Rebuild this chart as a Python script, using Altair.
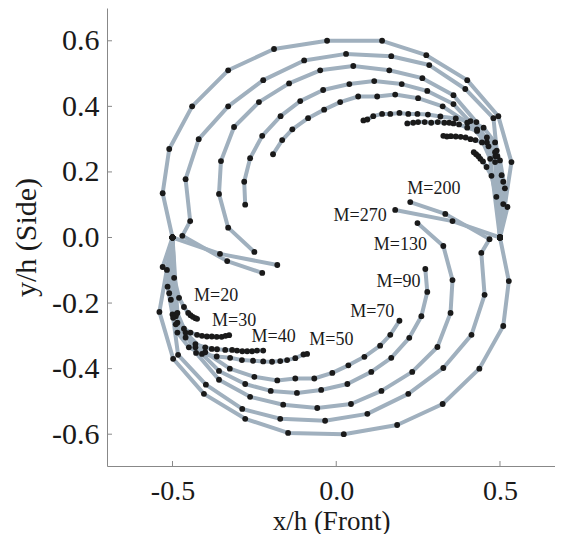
import altair as alt
import pandas as pd

# ---- data (x/h, y/h) ----
L20 = [(-0.50, 0.0), (-0.53, -0.09), (-0.517, -0.099), (-0.495, -0.123), (-0.48, -0.184), (-0.465, -0.212),
       (-0.452, -0.23), (-0.445, -0.237), (-0.438, -0.242), (-0.43, -0.246), (-0.425, -0.248)]
U20 = [(0.50, 0.0), (0.523, 0.093), (0.51, 0.102), (0.489, 0.124), (0.474, 0.188), (0.459, 0.215),
       (0.448, 0.232), (0.44, 0.24), (0.434, 0.248), (0.427, 0.254), (0.42, 0.26)]

L30 = [(-0.50, 0.0), (-0.515, -0.15), (-0.50, -0.235), (-0.485, -0.26), (-0.465, -0.278), (-0.445, -0.29),
       (-0.425, -0.297), (-0.41, -0.30), (-0.395, -0.302), (-0.38, -0.302), (-0.365, -0.303), (-0.35, -0.303),
       (-0.338, -0.30), (-0.327, -0.298)]
U30 = [(0.50, 0.0), (0.515, 0.15), (0.50, 0.235), (0.485, 0.26), (0.465, 0.278), (0.445, 0.29),
       (0.425, 0.297), (0.41, 0.30), (0.395, 0.305), (0.38, 0.307), (0.365, 0.308), (0.35, 0.309),
       (0.338, 0.308), (0.327, 0.31)]

L40 = [(-0.50, 0.0), (-0.51, -0.17), (-0.49, -0.265), (-0.46, -0.305), (-0.43, -0.325), (-0.40, -0.335),
       (-0.38, -0.34), (-0.364, -0.341), (-0.339, -0.343), (-0.318, -0.343), (-0.303, -0.345), (-0.287, -0.347),
       (-0.272, -0.347), (-0.257, -0.347), (-0.242, -0.345), (-0.223, -0.345)]
U40 = [(0.50, 0.0), (0.51, 0.17), (0.49, 0.265), (0.46, 0.305), (0.43, 0.325), (0.40, 0.335),
       (0.375, 0.345), (0.358, 0.348), (0.345, 0.35), (0.33, 0.35), (0.31, 0.352), (0.29, 0.35),
       (0.27, 0.352), (0.25, 0.352), (0.235, 0.35), (0.217, 0.348)]

L50 = [(-0.50, 0.0), (-0.505, -0.19), (-0.485, -0.29), (-0.45, -0.335), (-0.41, -0.355), (-0.365, -0.363),
       (-0.324, -0.367), (-0.288, -0.374), (-0.254, -0.376), (-0.223, -0.378), (-0.196, -0.379), (-0.171, -0.377),
       (-0.15, -0.374), (-0.125, -0.368), (-0.10, -0.357), (-0.089, -0.355)]
U50 = [(0.50, 0.0), (0.505, 0.19), (0.485, 0.29), (0.45, 0.335), (0.41, 0.355), (0.365, 0.363),
       (0.318, 0.369), (0.28, 0.375), (0.248, 0.377), (0.22, 0.377), (0.193, 0.38), (0.165, 0.377),
       (0.14, 0.377), (0.113, 0.37), (0.095, 0.36), (0.083, 0.357)]

L70 = [(-0.50, 0.0), (-0.485, -0.23), (-0.46, -0.29), (-0.40, -0.35), (-0.325, -0.40), (-0.25, -0.425),
       (-0.18, -0.436), (-0.125, -0.43), (-0.067, -0.43), (-0.012, -0.413), (0.037, -0.39), (0.086, -0.364),
       (0.134, -0.33), (0.165, -0.297), (0.193, -0.254)]
U70 = [(0.50, 0.0), (0.485, 0.23), (0.46, 0.29), (0.40, 0.35), (0.325, 0.40), (0.25, 0.425),
       (0.18, 0.436), (0.125, 0.43), (0.067, 0.43), (0.012, 0.413), (-0.037, 0.39), (-0.086, 0.364),
       (-0.134, 0.33), (-0.165, 0.297), (-0.193, 0.254)]

L90 = [(-0.50, 0.0), (-0.49, -0.235), (-0.43, -0.335), (-0.358, -0.407), (-0.278, -0.447), (-0.2, -0.468),
       (-0.12, -0.474), (-0.046, -0.465), (0.034, -0.447), (0.107, -0.41), (0.168, -0.367), (0.223, -0.306),
       (0.26, -0.24), (0.278, -0.166), (0.272, -0.096)]
U90 = [(0.50, 0.0), (0.47, 0.24), (0.43, 0.33), (0.358, 0.407), (0.278, 0.447), (0.2, 0.468),
       (0.116, 0.477), (0.04, 0.468), (-0.04, 0.45), (-0.11, 0.416), (-0.17, 0.37), (-0.226, 0.31),
       (-0.263, 0.242), (-0.281, 0.17), (-0.278, 0.10)]

L130 = [(-0.50, 0.0), (-0.49, -0.24), (-0.428, -0.352), (-0.358, -0.434), (-0.263, -0.486), (-0.162, -0.51),
        (-0.058, -0.52), (0.045, -0.508), (0.138, -0.468), (0.232, -0.41), (0.309, -0.334), (0.349, -0.23),
        (0.355, -0.13), (0.327, -0.026), (0.248, 0.044)]
U130 = [(0.50, 0.0), (0.486, 0.248), (0.428, 0.352), (0.358, 0.434), (0.263, 0.486), (0.162, 0.51),
        (0.052, 0.523), (-0.049, 0.51), (-0.144, 0.47), (-0.236, 0.413), (-0.312, 0.337), (-0.352, 0.233),
        (-0.358, 0.133), (-0.33, 0.03), (-0.25, -0.044)]

L200 = [(-0.50, 0.0), (-0.498, -0.245), (-0.483, -0.358), (-0.398, -0.449), (-0.287, -0.523), (-0.171, -0.553),
        (-0.034, -0.559), (0.095, -0.538), (0.22, -0.477), (0.327, -0.398), (0.413, -0.297), (0.453, -0.175),
        (0.443, -0.047), (0.468, -0.005), (0.333, 0.072), (0.226, 0.108)]
U200 = [(0.50, 0.0), (0.492, 0.248), (0.48, 0.364), (0.394, 0.453), (0.284, 0.526), (0.168, 0.553),
        (0.03, 0.56), (-0.098, 0.54), (-0.223, 0.48), (-0.33, 0.40), (-0.42, 0.30), (-0.46, 0.178),
        (-0.446, 0.05), (-0.47, 0.005), (-0.333, -0.072), (-0.226, -0.108)]

L270 = [(-0.50, 0.0), (-0.54, -0.227), (-0.498, -0.37), (-0.404, -0.477), (-0.278, -0.553), (-0.147, -0.596),
        (0.023, -0.60), (0.186, -0.572), (0.325, -0.508), (0.437, -0.40), (0.51, -0.27), (0.527, -0.133),
        (0.50, 0.0), (0.355, 0.05), (0.18, 0.084)]
U270 = [(0.50, 0.0), (0.535, 0.23), (0.495, 0.37), (0.40, 0.48), (0.275, 0.556), (0.14, 0.60),
        (-0.028, 0.60), (-0.19, 0.575), (-0.33, 0.51), (-0.44, 0.40), (-0.51, 0.27), (-0.53, 0.135),
        (-0.50, 0.0), (-0.355, -0.05), (-0.18, -0.084)]

label_text = ["M=20", "M=30", "M=40", "M=50", "M=70", "M=90", "M=130", "M=200", "M=270"]
label_x = [-0.367, -0.312, -0.191, -0.015, 0.11, 0.19, 0.196, 0.298, 0.073]
label_y = [-0.178, -0.255, -0.303, -0.313, -0.227, -0.137, -0.024, 0.149, 0.066]

x_ticks = [-0.5, 0.0, 0.5]
y_ticks = [-0.6, -0.4, -0.2, 0.0, 0.2, 0.4, 0.6]

# ---- build table ----
series = {
    "L20": L20, "U20": U20, "L30": L30, "U30": U30, "L40": L40, "U40": U40,
    "L50": L50, "U50": U50, "L70": L70, "U70": U70, "L90": L90, "U90": U90,
    "L130": L130, "U130": U130, "L200": L200, "U200": U200, "L270": L270, "U270": U270,
}
rows = []
for name, pts in series.items():
    for i, (xv, yv) in enumerate(pts):
        rows.append({"s": name, "i": i, "x": xv, "y": yv})
df = pd.DataFrame(rows)
labels = pd.DataFrame({"t": label_text, "x": label_x, "y": label_y})

FONT = "Liberation Serif"
W, H = 448, 458
xs = alt.Scale(domain=[-0.7, 0.668], nice=False, zero=False)
ys = alt.Scale(domain=[-0.697, 0.70], nice=False, zero=False)

fix_minus = "replace(format(datum.value, '.1f'), '\u2212', '-')"
xaxis = alt.Axis(values=x_ticks, labelExpr=fix_minus, title="x/h (Front)", ticks=False,
                 labelFontSize=28, labelPadding=11, titlePadding=3, titleFontSize=27, grid=False)
yaxis = alt.Axis(values=y_ticks, labelExpr=fix_minus, title="y/h (Side)", ticks=False,
                 labelPadding=8, titlePadding=10, grid=False)

base = alt.Chart(df)
lines = base.mark_line(color="#a0b0be", strokeWidth=4, strokeJoin="round").encode(
    x=alt.X("x:Q", scale=xs, axis=xaxis),
    y=alt.Y("y:Q", scale=ys, axis=yaxis),
    detail="s:N",
    order="i:Q",
)
points = base.mark_circle(color="#1a1a1a", size=34, opacity=1).encode(
    x=alt.X("x:Q", scale=xs), y=alt.Y("y:Q", scale=ys)
)
texts = alt.Chart(labels).mark_text(font=FONT, fontSize=18, color="#1a1a1a",
                                     align="center", baseline="middle").encode(
    x=alt.X("x:Q", scale=xs), y=alt.Y("y:Q", scale=ys), text="t:N"
)
xt = alt.Chart(pd.DataFrame({"v": x_ticks})).mark_rule(color="#888888", strokeWidth=1).encode(
    x=alt.X("v:Q", scale=xs), y=alt.value(H), y2=alt.value(H - 5)
)
yt = alt.Chart(pd.DataFrame({"v": y_ticks})).mark_rule(color="#888888", strokeWidth=1).encode(
    y=alt.Y("v:Q", scale=ys), x=alt.value(0), x2=alt.value(5)
)

chart = alt.layer(lines, points, texts, xt, yt).properties(
    width=W, height=H,
    autosize=alt.AutoSizeParams(type="none"),
    padding={"left": 99, "top": 0, "right": 0, "bottom": 68},
).configure_view(stroke=None).configure_axis(
    domainColor="#888888", domainWidth=1,
    labelFont=FONT, labelFontSize=30, labelColor="#1a1a1a",
    titleFont=FONT, titleFontSize=30, titleFontWeight="normal", titleColor="#1a1a1a",
)

chart.save("out.html", embed_options={"renderer": "svg", "actions": False})
